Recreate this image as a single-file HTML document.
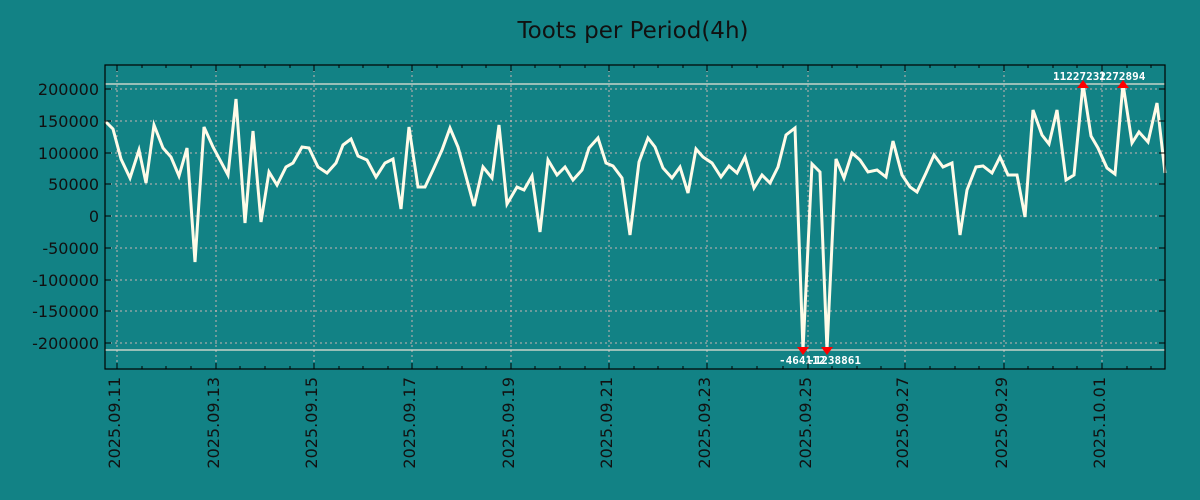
<!DOCTYPE html>
<html><head><meta charset="utf-8"><style>
html,body{margin:0;padding:0;background:#128285;}
svg{display:block;font-family:"DejaVu Sans","Liberation Sans",sans-serif;}
</style></head><body>
<svg width="1200" height="500" viewBox="0 0 1200 500" xmlns="http://www.w3.org/2000/svg">
<rect width="1200" height="500" fill="#128285"/>
<text x="633" y="38" font-size="23" text-anchor="middle" fill="#111">Toots per Period(4h)</text>
<g stroke="#c8b4b4" stroke-width="1" stroke-dasharray="2,3">
<line x1="105" x2="1165" y1="89" y2="89"/><line x1="105" x2="1165" y1="121" y2="121"/>
<line x1="105" x2="1165" y1="153" y2="153"/><line x1="105" x2="1165" y1="184" y2="184"/>
<line x1="105" x2="1165" y1="216" y2="216"/><line x1="105" x2="1165" y1="248" y2="248"/>
<line x1="105" x2="1165" y1="280" y2="280"/><line x1="105" x2="1165" y1="311" y2="311"/>
<line x1="105" x2="1165" y1="343" y2="343"/>
<line x1="117" x2="117" y1="65" y2="369"/><line x1="216" x2="216" y1="65" y2="369"/>
<line x1="314" x2="314" y1="65" y2="369"/><line x1="412" x2="412" y1="65" y2="369"/>
<line x1="511" x2="511" y1="65" y2="369"/><line x1="609" x2="609" y1="65" y2="369"/>
<line x1="707" x2="707" y1="65" y2="369"/><line x1="808" x2="808" y1="65" y2="369"/>
<line x1="905" x2="905" y1="65" y2="369"/><line x1="1004" x2="1004" y1="65" y2="369"/>
<line x1="1102" x2="1102" y1="65" y2="369"/>
</g>
<line x1="105" x2="1165" y1="84" y2="84" stroke="#e8e4d8" stroke-width="1.2"/>
<line x1="105" x2="1165" y1="350" y2="350" stroke="#e8e4d8" stroke-width="1.2"/>
<polyline fill="none" stroke="#fffbe8" stroke-width="3" stroke-linejoin="miter" points="105,121 113,129 121,159 130,178 139,150 146,183 154,125 163,148 171,157 179,176 187,148 195,262 204,127 213,147 228,175 236,99 245,223 253,131 261,222 269,172 277,185 286,167 293,163 302,147 309,148 318,167 327,173 336,163 343,145 351,139 358,156 367,160 376,177 385,163 393,159 401,209 409,127 418,187 425,187 433,170 442,150 450,128 458,147 474,206 483,167 492,178 499,125 507,204 517,187 524,190 532,176 540,232 548,160 557,175 565,167 573,180 582,170 589,148 598,138 606,163 613,166 622,178 630,235 639,162 648,138 655,147 663,168 672,178 680,167 688,193 696,149 703,157 712,163 721,177 729,166 737,173 745,157 754,188 762,175 770,183 778,167 786,135 795,128 803,350 812,164 820,172 827,350 836,159 844,178 852,153 860,160 868,172 877,170 886,177 893,141 902,175 910,187 917,192 926,173 934,155 943,167 952,163 960,235 967,190 976,167 983,166 992,173 1000,157 1008,175 1017,175 1025,217 1033,110 1042,135 1049,144 1057,110 1066,180 1074,175 1083,84 1091,136 1098,148 1107,168 1115,174 1123,84 1132,143 1139,132 1148,142 1157,103 1165,173"/>
<g fill="#ff0000">
<polygon points="1077,88 1089,88 1083,80"/><polygon points="1117,88 1129,88 1123,80"/>
<polygon points="797,347 809,347 803,355"/><polygon points="821,347 833,347 827,355"/>
</g>
<g font-size="11" font-weight="bold" fill="#ffffff" font-family="'DejaVu Sans Mono','Liberation Mono',monospace">
<text x="1053" y="80">11227232</text><text x="1099" y="80">1272894</text>
<text x="779" y="364">-464112</text><text x="808" y="364">-1238861</text>
</g>
<rect x="105" y="65" width="1060" height="304" fill="none" stroke="#000" stroke-width="1.2"/>
<g stroke="#000" stroke-width="1">
<line x1="105" x2="111" y1="89" y2="89"/><line x1="105" x2="111" y1="121" y2="121"/>
<line x1="105" x2="111" y1="153" y2="153"/><line x1="105" x2="111" y1="184" y2="184"/>
<line x1="105" x2="111" y1="216" y2="216"/><line x1="105" x2="111" y1="248" y2="248"/>
<line x1="105" x2="111" y1="280" y2="280"/><line x1="105" x2="111" y1="311" y2="311"/>
<line x1="105" x2="111" y1="343" y2="343"/>
<line x1="1159" x2="1165" y1="89" y2="89"/><line x1="1159" x2="1165" y1="121" y2="121"/>
<line x1="1159" x2="1165" y1="153" y2="153"/><line x1="1159" x2="1165" y1="184" y2="184"/>
<line x1="1159" x2="1165" y1="216" y2="216"/><line x1="1159" x2="1165" y1="248" y2="248"/>
<line x1="1159" x2="1165" y1="280" y2="280"/><line x1="1159" x2="1165" y1="311" y2="311"/>
<line x1="1159" x2="1165" y1="343" y2="343"/>
</g>
<g stroke="#000" stroke-width="1">
<path d="M117 65v6M216 65v6M314 65v6M412 65v6M511 65v6M609 65v6M707 65v6M808 65v6M905 65v6M1004 65v6M1102 65v6M117 369v-6M216 369v-6M314 369v-6M412 369v-6M511 369v-6M609 369v-6M707 369v-6M808 369v-6M905 369v-6M1004 369v-6M1102 369v-6"/>
<path d="M142 65v3M166 65v3M191 65v3M240 65v3M265 65v3M290 65v3M339 65v3M363 65v3M388 65v3M437 65v3M462 65v3M486 65v3M535 65v3M560 65v3M585 65v3M634 65v3M658 65v3M683 65v3M732 65v3M757 65v3M783 65v3M832 65v3M857 65v3M881 65v3M930 65v3M955 65v3M979 65v3M1028 65v3M1053 65v3M1077 65v3M1127 65v3M1151 65v3M142 369v-3M166 369v-3M191 369v-3M240 369v-3M265 369v-3M290 369v-3M339 369v-3M363 369v-3M388 369v-3M437 369v-3M462 369v-3M486 369v-3M535 369v-3M560 369v-3M585 369v-3M634 369v-3M658 369v-3M683 369v-3M732 369v-3M757 369v-3M783 369v-3M832 369v-3M857 369v-3M881 369v-3M930 369v-3M955 369v-3M979 369v-3M1028 369v-3M1053 369v-3M1077 369v-3M1127 369v-3M1151 369v-3"/>
</g>
<g font-size="16" fill="#111" text-anchor="end">
<text x="99" y="95">200000</text><text x="99" y="127">150000</text>
<text x="99" y="159">100000</text><text x="99" y="190">50000</text>
<text x="99" y="222">0</text><text x="99" y="254">-50000</text>
<text x="99" y="286">-100000</text><text x="99" y="317">-150000</text>
<text x="99" y="349">-200000</text>
</g>
<g font-size="16" fill="#111" text-anchor="end">
<text transform="translate(120,377) rotate(-90)">2025.09.11</text>
<text transform="translate(219,377) rotate(-90)">2025.09.13</text>
<text transform="translate(317,377) rotate(-90)">2025.09.15</text>
<text transform="translate(415,377) rotate(-90)">2025.09.17</text>
<text transform="translate(514,377) rotate(-90)">2025.09.19</text>
<text transform="translate(612,377) rotate(-90)">2025.09.21</text>
<text transform="translate(710,377) rotate(-90)">2025.09.23</text>
<text transform="translate(811,377) rotate(-90)">2025.09.25</text>
<text transform="translate(908,377) rotate(-90)">2025.09.27</text>
<text transform="translate(1007,377) rotate(-90)">2025.09.29</text>
<text transform="translate(1105,377) rotate(-90)">2025.10.01</text>
</g>
</svg>
</body></html>
